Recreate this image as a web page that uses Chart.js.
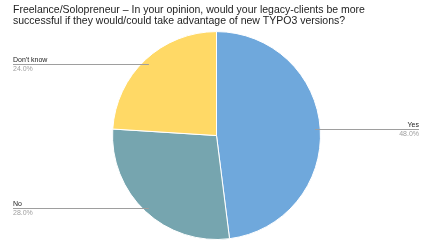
<!DOCTYPE html>
<html>
<head>
<meta charset="utf-8">
<script src="https://cdn.jsdelivr.net/npm/chart.js@4"></script>
<style>
  html, body { margin: 0; padding: 0; background: #fff; }
  #wrap { width: 433px; height: 243px; }
</style>
</head>
<body>
<div id="wrap"><canvas id="chart"></canvas></div>
<script>
const titleLines = [
    'Freelance/Solopreneur \u2013 In your opinion, would your legacy-clients be more',
    'successful if they would/could take advantage of new TYPO3 versions?'
];
const categories = ['Yes', 'No', "Don't know"];
const values = [48, 28, 24];
const colors = ['#6fa8dc', '#76a5af', '#ffd966'];

// leader lines + labels drawn next to each slice
const sliceLabels = {
    id: 'sliceLabels',
    afterDraw(chart) {
        const ctx = chart.ctx;
        const meta = chart.getDatasetMeta(0);
        const total = values.reduce((a, b) => a + b, 0);
        ctx.save();
        meta.data.forEach((arc, i) => {
            const mid = (arc.startAngle + arc.endAngle) / 2;
            const r = arc.outerRadius * 0.95;
            const ex = arc.x + Math.cos(mid) * r;
            const ey = arc.y + Math.sin(mid) * r;
            const left = Math.cos(mid) < 0;
            const tx = left ? 13 : chart.width - 14;
            ctx.strokeStyle = '#9e9e9e';
            ctx.lineWidth = 1;
            ctx.beginPath();
            ctx.moveTo(tx, Math.round(ey) + 0.5);
            ctx.lineTo(ex, Math.round(ey) + 0.5);
            ctx.stroke();
            ctx.textAlign = left ? 'left' : 'right';
            ctx.font = '7px "Liberation Sans", Arial, sans-serif';
            ctx.fillStyle = '#222';
            ctx.textBaseline = 'alphabetic';
            ctx.fillText(categories[i], tx, Math.round(ey) - 2);
            ctx.fillStyle = '#9e9e9e';
            ctx.textBaseline = 'top';
            const pct = (values[i] / total * 100).toFixed(1) + '%';
            ctx.fillText(pct, tx, Math.round(ey) + 2);
        });
        ctx.restore();
    }
};

new Chart(document.getElementById('chart'), {
    type: 'pie',
    data: {
        labels: categories,
        datasets: [{
            data: values,
            backgroundColor: colors,
            borderColor: '#ffffff',
            borderWidth: 1
        }]
    },
    options: {
        responsive: true,
        maintainAspectRatio: false,
        animation: false,
        layout: { padding: { left: 13, right: 13, top: 0, bottom: 3 } },
        plugins: {
            legend: { display: false },
            tooltip: { enabled: false },
            title: {
                display: true,
                text: titleLines,
                align: 'start',
                color: '#222',
                font: { family: '"Liberation Sans", Arial, sans-serif', size: 10.5, weight: 'normal', lineHeight: 1.1 },
                padding: { top: 4, bottom: 4 }
            }
        }
    },
    plugins: [sliceLabels]
});
</script>
</body>
</html>
